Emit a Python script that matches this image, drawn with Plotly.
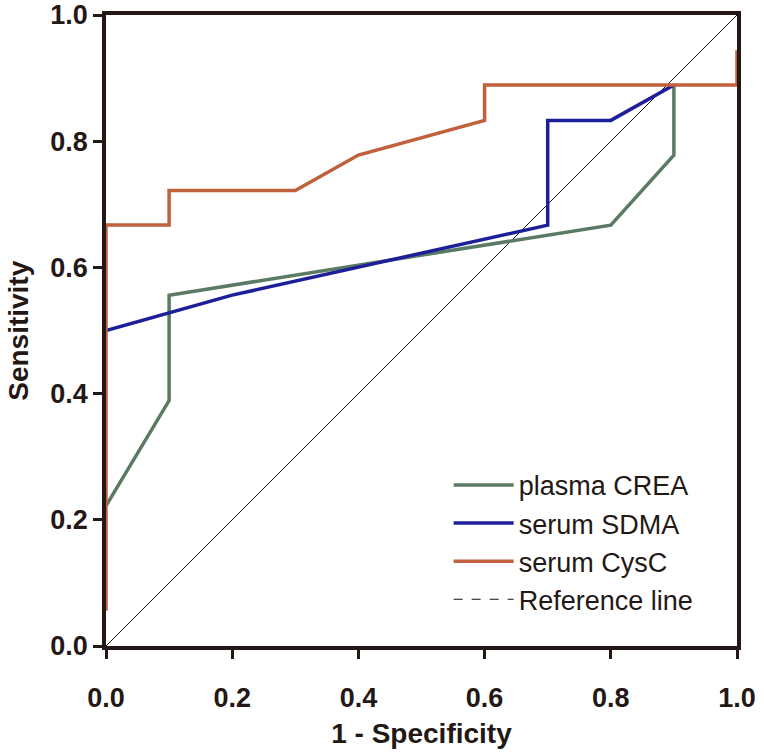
import plotly.graph_objects as go

# ROC curve data (1 - Specificity, Sensitivity)
crea_x = [0.0, 0.1, 0.1, 0.8, 0.9, 0.9]
crea_y = [0.222, 0.389, 0.556, 0.667, 0.778, 0.889]

sdma_x = [0.0, 0.2, 0.7, 0.7, 0.8, 0.9]
sdma_y = [0.500, 0.556, 0.667, 0.833, 0.833, 0.889]

cysc_x = [0.0, 0.0, 0.1, 0.1, 0.3, 0.4, 0.6, 0.6, 1.0, 1.0]
cysc_y = [0.056, 0.667, 0.667, 0.722, 0.722, 0.778, 0.833, 0.889, 0.889, 0.944]

ref_x = [0.0, 1.0]
ref_y = [0.0, 1.0]

tick_vals = [0.0, 0.2, 0.4, 0.6, 0.8, 1.0]
tick_text = ["0.0", "0.2", "0.4", "0.6", "0.8", "1.0"]

axis_col = "#231815"
FONT = "Liberation Sans, Arial, sans-serif"
bold_font = dict(family=FONT, size=28, color=axis_col)

fig = go.Figure()
fig.add_trace(go.Scatter(x=ref_x, y=ref_y, mode="lines", showlegend=False,
                         line=dict(color="#111111", width=1)))
fig.add_trace(go.Scatter(x=crea_x, y=crea_y, mode="lines", name="plasma CREA",
                         line=dict(color="#5b7a64", width=3.5)))
fig.add_trace(go.Scatter(x=sdma_x, y=sdma_y, mode="lines", name="serum SDMA",
                         line=dict(color="#1c1f99", width=3.5)))
fig.add_trace(go.Scatter(x=cysc_x, y=cysc_y, mode="lines", name="serum CysC",
                         line=dict(color="#c0603d", width=3.5)))
fig.add_trace(go.Scatter(x=[None], y=[None], mode="lines", name="Reference line",
                         line=dict(color="#111111", width=1.2, dash="dash")))

bold_ticks = ["<b>" + t + "</b>" for t in tick_text]

axis_common = dict(
    range=[0, 1], tickmode="array", tickvals=tick_vals, ticktext=bold_ticks,
    showgrid=False, zeroline=False, showline=True, mirror=True,
    linecolor=axis_col, linewidth=3.5, ticks="outside", ticklen=9,
    tickwidth=3, tickcolor=axis_col, automargin=False,
    tickfont=dict(family=FONT, size=27, color=axis_col),
)

fig.update_xaxes(**axis_common, ticklabelstandoff=16,
                 title=dict(text="<b>1 - Specificity</b>", font=bold_font, standoff=12))
fig.update_yaxes(**axis_common)

fig.add_annotation(text="<b>Sensitivity</b>", xref="paper", yref="paper",
                   x=-0.139, y=0.5, xanchor="center", yanchor="middle",
                   textangle=-90, showarrow=False, font=bold_font)

fig.update_layout(
    width=764, height=752,
    margin=dict(l=106, r=27, t=15, b=106),
    plot_bgcolor="white", paper_bgcolor="white",
    font=dict(family=FONT, color=axis_col),
    legend=dict(x=0.543, y=0.035, xanchor="left", yanchor="bottom",
                bgcolor="rgba(0,0,0,0)", borderwidth=0,
                font=dict(family=FONT, size=27, color=axis_col),
                itemwidth=60),
)

fig.write_html("out.html", config={"displayModeBar": False},
               post_script="document.body.style.margin='0';")
